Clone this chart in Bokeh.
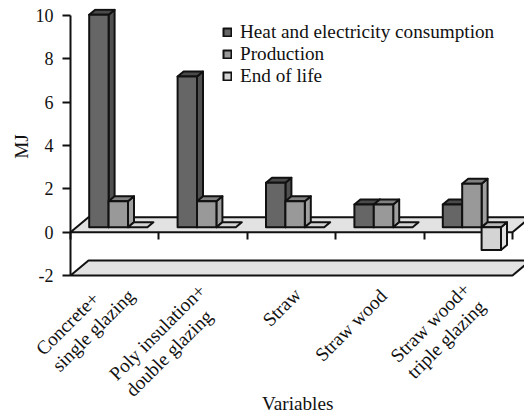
from math import pi
from bokeh.plotting import figure
from bokeh.core.properties import value
from bokeh.models import Range1d, LinearAxis, FixedTicker, Legend, LegendItem
from bokeh.embed import file_html
from bokeh.resources import INLINE

categories = ["Concrete+\nsingle glazing", "Poly insulation+\ndouble glazing", "Straw", "Straw wood", "Straw wood+\ntriple glazing"]
series_names = ["Heat and electricity consumption", "Production", "End of life"]
heat = [9.8, 6.95, 2.05, 1.05, 1.05]
production = [1.2, 1.2, 1.2, 1.05, 2.0]
end_of_life = [0.0, 0.0, 0.0, 0.0, -1.05]
y_ticks = [-2, 0, 2, 4, 6, 8, 10]
x_title = "Variables"
y_title = "MJ"

FONT = "Liberation Serif"
FS = "18px"
FS_TEXT = "19.2px"
INK = "#111111"
FRONT = ["#666666", "#999999", "#d4d4d4"]
SIDE = ["#505050", "#a0a0a0", "#e2e2e2"]
TOP = ["#4a4a4a", "#808080", "#b8b8b8"]
EDGE = "#111111"

XPX, YPX = 88.4, 21.667          # pixels per category / per MJ
FLOOR_DX, FLOOR_DY = 18 / XPX, 15 / YPX
BAR_DX, BAR_DY = 6 / XPX, 5 / YPX
BAR_W = 19.4 / XPX
BAR_START = 18.7 / XPX
n = len(categories)
LABEL_X_OFF = [-83, -98, -33, -69, -82]
LABEL_Y_OFF = [69, 94, 40, 75, 76]

p = figure(width=524, height=413, frame_width=524, frame_height=405,
           x_range=Range1d(-70 / XPX, 454 / XPX), y_range=Range1d(-2 - 138 / YPX, 10 + 7 / YPX),
           output_backend="svg", toolbar_location=None, x_axis_type=None, y_axis_type=None,
           min_border_left=0, min_border_top=8, min_border_right=0, min_border_bottom=0,
           outline_line_color=None, background_fill_color=None)
p.xgrid.visible = False
p.ygrid.visible = False

# floors
for lvl in (y_ticks[0], 0):
    p.patch([0, n, n + FLOOR_DX, FLOOR_DX], [lvl, lvl, lvl + FLOOR_DY, lvl + FLOOR_DY],
            fill_color="#e2e2e2", line_color=EDGE, line_width=2)

legend_rs = []
for c in range(n):
    for s, vals in enumerate((heat, production, end_of_life)):
        v = vals[c]
        x0 = c + BAR_START + s * BAR_W
        x1 = x0 + BAR_W
        b = FLOOR_DY / 3
        hi = b + max(v, 0)
        lo = b + min(v, 0)
        kw = dict(line_color=EDGE, line_width=2, line_join="round")
        if hi > lo:
            p.patch([x1, x1 + BAR_DX, x1 + BAR_DX, x1], [lo, lo + BAR_DY, hi + BAR_DY, hi], fill_color=SIDE[s], **kw)
        p.patch([x0, x1, x1 + BAR_DX, x0 + BAR_DX], [hi, hi, hi + BAR_DY, hi + BAR_DY],
                fill_color=TOP[s] if hi > lo else FRONT[s], **kw)
        if hi > lo:
            r = p.quad(left=x0, right=x1, bottom=lo, top=hi, fill_color=FRONT[s], **kw)
            if c == 0 or (s == 2 and c == n - 1):
                legend_rs.append(r)

# y axis
ya = LinearAxis(ticker=FixedTicker(ticks=y_ticks), bounds=(y_ticks[0], y_ticks[-1]), fixed_location=0,
                axis_line_color=EDGE, axis_line_width=2, major_tick_line_color=EDGE, major_tick_line_width=2,
                major_tick_out=8, major_tick_in=0, minor_tick_line_color=None,
                major_label_text_font=FONT, major_label_text_font_size=FS, major_label_text_color=INK,
                major_label_standoff=9)
ya.major_label_overrides = {t: str(t) for t in y_ticks}
p.add_layout(ya, "left")

# tick marks on the zero line
ta = LinearAxis(ticker=FixedTicker(ticks=list(range(n + 1))), fixed_location=0, axis_line_color=None,
                major_tick_line_color=EDGE, major_tick_line_width=2, major_tick_out=0, major_tick_in=7,
                minor_tick_line_color=None, major_label_text_font_size="0px",
                major_label_text_color=None)
p.add_layout(ta, "above")

# category labels: anchored under each category, left-aligned lines, pixel offset of the text start
p.text(x=[i + 0.5 for i in range(n)], y=[y_ticks[0]] * n, text=categories, x_offset=LABEL_X_OFF, y_offset=LABEL_Y_OFF,
       angle=pi / 4, text_align="left", text_baseline="top", text_font=value(FONT), text_font_size=value(FS_TEXT),
       text_color=INK, text_line_height=1.1)
p.text(x=[n / 2 + 0.07], y=[y_ticks[0]], text=[x_title], y_offset=128, text_align="center", text_baseline="middle",
       text_font=value(FONT), text_font_size=value(FS_TEXT), text_color=INK)
p.text(x=[0], y=[4], text=[y_title], x_offset=-49, y_offset=1, angle=pi / 2, text_align="center", text_baseline="middle",
       text_font=value(FONT), text_font_size=value(FS_TEXT), text_color=INK)

legend = Legend(items=[LegendItem(label=name, renderers=[r]) for name, r in zip(series_names, legend_rs)],
                location=(222, 326), orientation="vertical", background_fill_alpha=0, border_line_color=None,
                padding=0, margin=0, spacing=0, glyph_width=10, glyph_height=10, label_height=22, label_standoff=8,
                label_text_font=FONT, label_text_font_size=FS_TEXT, label_text_color=INK)
p.add_layout(legend, "center")

open("out.html", "w").write(file_html(p, INLINE))
